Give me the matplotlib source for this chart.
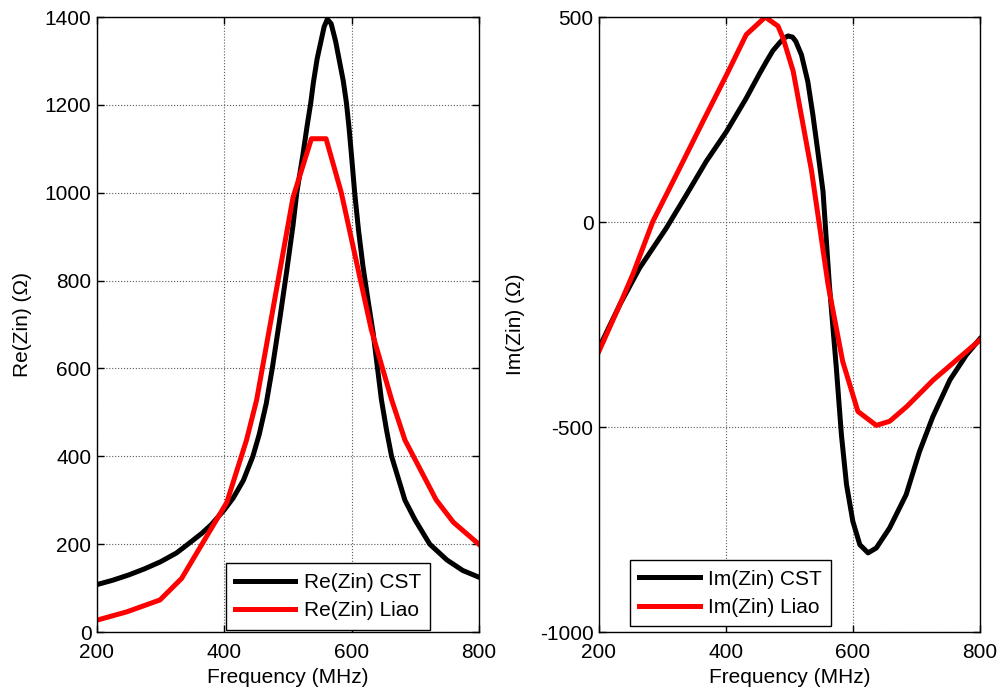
import matplotlib
import matplotlib.pyplot as plt

matplotlib.use('agg')

plt.rcParams['font.family'] = ['Liberation Sans', 'DejaVu Sans']
plt.rcParams['font.size'] = 15
plt.rcParams['axes.unicode_minus'] = False

# Re(Zin)
re_cst_f = [200, 225, 250, 275, 300, 325, 343, 365, 380, 400, 414, 430, 445, 455,
            466, 476, 487, 498, 508, 514, 524, 530, 536, 540, 546, 552, 557, 562,
            568, 575, 581, 587, 592, 596, 600, 605, 611, 618, 626, 634, 647, 655,
            663, 684, 700, 723, 750, 775, 800]
re_cst = [108, 118, 130, 144, 160, 180, 200, 225, 245, 278, 305, 345, 400, 450,
          520, 605, 710, 820, 925, 1000, 1090, 1150, 1205, 1250, 1305, 1345, 1378, 1395,
          1385, 1345, 1300, 1255, 1205, 1150, 1085, 1000, 915, 833, 755, 681, 529, 460,
          400, 300, 255, 200, 164, 140, 125]
re_liao_f = [200, 247, 299, 333, 372, 404, 435, 451, 466, 508, 537, 560, 584, 631,
             663, 684, 733, 760, 800]
re_liao = [27, 46, 73, 122, 217, 295, 437, 529, 650, 989, 1123, 1123, 1000, 689,
           529, 437, 301, 250, 200]

# Im(Zin)
im_cst_f = [200, 233, 264, 306, 338, 369, 401, 432, 453, 464, 474, 485, 492, 498,
            505, 510, 519, 529, 537, 545, 553, 563, 574, 582, 590, 600, 611, 624,
            637, 658, 684, 705, 726, 753, 779, 800]
im_cst = [-307, -201, -112, -15, 67, 148, 221, 302, 362, 392, 418, 438, 449, 454,
          451, 441, 408, 343, 262, 170, 75, -153, -356, -519, -640, -730, -787, -807,
          -795, -746, -665, -560, -475, -385, -324, -285]
im_liao_f = [200, 233, 254, 285, 327, 364, 401, 432, 462, 482, 490, 506, 535, 561,
             584, 608, 637, 658, 685, 727, 800]
im_liao = [-315, -201, -125, 2, 131, 246, 359, 457, 500, 478, 449, 368, 124, -153,
           -340, -462, -496, -486, -450, -385, -288]

fig = plt.figure(figsize=(10.02, 6.93), dpi=100)
ax1 = fig.add_axes([0.0968, 0.088, 0.381, 0.8874])
ax2 = fig.add_axes([0.5978, 0.088, 0.380, 0.8874])


def style(ax):
    ax.grid(True, linestyle=':', color='0.35', linewidth=0.8)
    ax.tick_params(direction='in', top=True, right=True, length=5, width=1)
    ax.tick_params(axis='x', pad=8)
    ax.tick_params(axis='y', pad=4)
    for s in ax.spines.values():
        s.set_linewidth(1)
    ax.set_xlim(200, 800)
    ax.set_xticks([200, 400, 600, 800])
    ax.set_xlabel('Frequency (MHz)')
    ax.xaxis.set_label_coords(0.5, -0.058)


leg_kw = dict(loc='lower left', fancybox=False, edgecolor='black', framealpha=1,
              handlelength=2.9, handletextpad=0.4, labelspacing=0.45,
              borderpad=0.45, borderaxespad=0)

ax1.plot(re_cst_f, re_cst, color='black', lw=3.6, label='Re(Zin) CST')
ax1.plot(re_liao_f, re_liao, color='red', lw=3.6, label='Re(Zin) Liao')
style(ax1)
ax1.set_ylim(0, 1400)
ax1.set_yticks(range(0, 1401, 200))
ax1.set_ylabel('Re(Zin) (Ω)')
ax1.yaxis.set_label_coords(-0.17, 0.5)
ax1.legend(bbox_to_anchor=(0.337, 0.004), **leg_kw)

ax2.plot(im_cst_f, im_cst, color='black', lw=3.6, label='Im(Zin) CST')
ax2.plot(im_liao_f, im_liao, color='red', lw=3.6, label='Im(Zin) Liao')
style(ax2)
ax2.set_ylim(-1000, 500)
ax2.set_yticks([-1000, -500, 0, 500])
ax2.set_ylabel('Im(Zin) (Ω)')
ax2.yaxis.set_label_coords(-0.195, 0.5)
ax2.legend(bbox_to_anchor=(0.081, 0.009), **leg_kw)

fig.savefig('out.png', dpi=100)
plt.close()
